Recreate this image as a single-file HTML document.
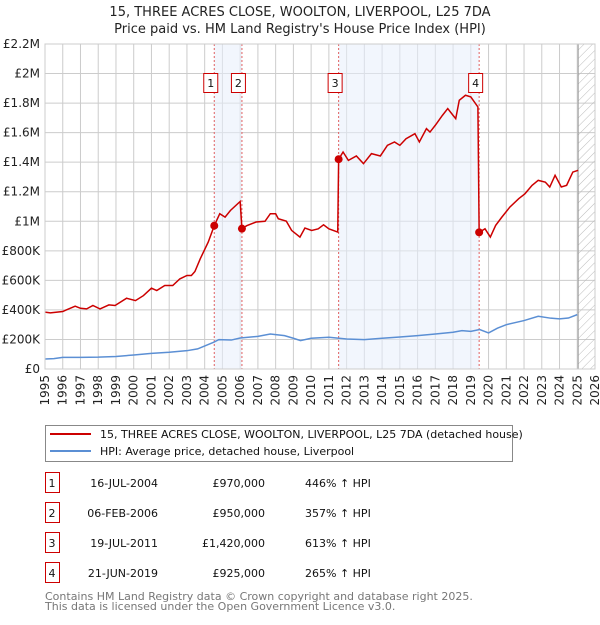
<!DOCTYPE html>
<html><head><meta charset="utf-8"><style>
body{margin:0;background:#fff;font-family:"Liberation Sans","DejaVu Sans",sans-serif;}
svg text{font-family:"DejaVu Sans","Liberation Sans",sans-serif;}
</style></head><body>
<svg id="c" width="600" height="620" xmlns="http://www.w3.org/2000/svg">
<defs><pattern id="hatch" width="6" height="6" patternUnits="userSpaceOnUse" patternTransform="rotate(45)"><line x1="0" y1="0" x2="0" y2="6" stroke="#bbb" stroke-width="1"/></pattern></defs>
<text x="300" y="16" text-anchor="middle" font-size="13" fill="#222">15, THREE ACRES CLOSE, WOOLTON, LIVERPOOL, L25 7DA</text>
<text x="300" y="33" text-anchor="middle" font-size="13" fill="#222">Price paid vs. HM Land Registry's House Price Index (HPI)</text>
<g id="grid"></g><g id="shade"></g><g id="series"></g><g id="axes"></g>
<g>
<rect x="45.5" y="425.5" width="467" height="36" fill="#fff" stroke="#888"/>
<line x1="50" y1="434" x2="91" y2="434" stroke="#cc0000" stroke-width="2"/>
<text x="100" y="438" font-size="11" fill="#111">15, THREE ACRES CLOSE, WOOLTON, LIVERPOOL, L25 7DA (detached house)</text>
<line x1="50" y1="451" x2="91" y2="451" stroke="#5b8fd4" stroke-width="2"/>
<text x="100" y="455" font-size="11" fill="#111">HPI: Average price, detached house, Liverpool</text>
</g>
<g id="table" font-size="11" fill="#111"></g>
<text x="45" y="600" font-size="11" fill="#777">Contains HM Land Registry data © Crown copyright and database right 2025.</text>
<text x="45" y="610" font-size="11" fill="#777">This data is licensed under the Open Government Licence v3.0.</text>
</svg>
<script>
const redYears=[1995,1995.3,1996,1996.2,1996.7,1997,1997.35,1997.7,1998.1,1998.6,1998.95,1999.6,2000.1,2000.55,2001,2001.3,2001.75,2002.2,2002.6,2003,2003.25,2003.45,2003.75,2004.2,2004.54,2004.85,2005.15,2005.45,2006.0,2006.1,2006.37,2006.9,2007.4,2007.7,2008,2008.15,2008.6,2008.9,2009.37,2009.65,2010.03,2010.4,2010.7,2011.0,2011.5,2011.55,2011.8,2012.1,2012.55,2012.95,2013.4,2013.9,2014.3,2014.7,2015,2015.35,2015.85,2016.1,2016.5,2016.7,2017,2017.4,2017.7,2018,2018.15,2018.35,2018.7,2019,2019.4,2019.47,2019.8,2020.1,2020.4,2020.75,2021.2,2021.7,2022.05,2022.45,2022.8,2023.2,2023.45,2023.75,2024.1,2024.4,2024.75,2025.05];
const redValues=[385,380,389,400,425,411,407,430,407,434,430,479,463,497,547,531,565,565,610,633,633,660,746,859,970,1051,1028,1073,1134,950,970,995,1000,1051,1051,1017,1001,938,893,954,938,949,976,949,927,1420,1469,1412,1442,1390,1458,1442,1514,1537,1514,1559,1593,1537,1627,1604,1650,1717,1763,1717,1695,1819,1853,1842,1774,925,949,893,972,1028,1096,1153,1186,1243,1277,1265,1232,1311,1232,1243,1333,1345];
const hpiYears=[1995,1995.5,1996,1997,1998,1999,2000,2001,2002,2003,2003.6,2004.5,2004.8,2005.5,2006,2007,2007.7,2008.5,2009,2009.4,2010,2011,2012,2013,2014,2015,2016,2017,2018,2018.5,2019,2019.5,2020,2020.5,2021,2022,2022.8,2023.5,2024,2024.5,2025];
const hpiValues=[68,70,79,79,80,85,95,106,113,124,136,181,199,196,210,221,237,226,208,192,208,215,203,199,208,217,226,237,249,260,255,267,244,276,300,328,357,344,339,345,368];
const saleLabels=["1","2","3","4"];
const saleYears=[2004.54,2006.1,2011.55,2019.47];
const saleValues=[970,950,1420,925];
const saleDates=["16-JUL-2004","06-FEB-2006","19-JUL-2011","21-JUN-2019"];
const salePrices=["£970,000","£950,000","£1,420,000","£925,000"];
const saleHpi=["446% ↑ HPI","357% ↑ HPI","613% ↑ HPI","265% ↑ HPI"];
const yTickValues=[0,200,400,600,800,1000,1200,1400,1600,1800,2000,2200];
const yTickLabels=["£0","£200K","£400K","£600K","£800K","£1M","£1.2M","£1.4M","£1.6M","£1.8M","£2M","£2.2M"];
const xTickYears=[1995,1996,1997,1998,1999,2000,2001,2002,2003,2004,2005,2006,2007,2008,2009,2010,2011,2012,2013,2014,2015,2016,2017,2018,2019,2020,2021,2022,2023,2024,2025,2026];

const NS="http://www.w3.org/2000/svg";
const X0=45,X1=595,Y0=369,Y1=44;
const xs=y=>X0+(y-1995)/(2026-1995)*(X1-X0);
const ys=v=>Y0-v/2200*(Y0-Y1);
function mk(parent,tag,attrs){const e=document.createElementNS(NS,tag);for(const k in attrs)e.setAttribute(k,attrs[k]);document.getElementById(parent).appendChild(e);return e;}

yTickValues.forEach((v,i)=>{
 const l=mk('grid','line',{x1:X0,x2:X1,y1:ys(v),y2:ys(v),stroke:'#ccc','stroke-width':1});
 
 
 const t=mk('axes','text',{x:X0-5,y:ys(v)+4,'text-anchor':'end','font-size':12,fill:'#222'});
 t.textContent=yTickLabels[i];
 
 
});
xTickYears.forEach(yr=>{
 const l=mk('grid','line',{x1:xs(yr),x2:xs(yr),y1:Y1,y2:Y0,stroke:'#ccc','stroke-width':1});
 
 
 const t=mk('axes','text',{x:0,y:0,'text-anchor':'end','font-size':12,fill:'#222',transform:`translate(${xs(yr)+4},${Y0+6}) rotate(-90)`});
 t.textContent=yr;
 
 
});
// shaded ownership periods
[[0,1],[2,3]].forEach(p=>{
 const r=mk('shade','rect',{x:xs(saleYears[p[0]]),y:Y1,width:xs(saleYears[p[1]])-xs(saleYears[p[0]]),height:Y0-Y1,fill:'#e8eefc','fill-opacity':0.55});
 
 
});
// hatched future
const h=mk('shade','rect',{x:xs(2025.05),y:Y1,width:X1-xs(2025.05),height:Y0-Y1,fill:'url(#hatch)'});


const hl=mk('shade','line',{x1:xs(2025.05),x2:xs(2025.05),y1:Y1,y2:Y0,stroke:'#999','stroke-width':1});


const br=mk('axes','rect',{x:X0,y:Y1,width:X1-X0,height:Y0-Y1,fill:'none',stroke:'#ccc'});



saleYears.forEach(yr=>{
 const l=mk('series','line',{x1:xs(yr),x2:xs(yr),y1:Y1,y2:Y0,stroke:'#e06060','stroke-width':1,'stroke-dasharray':'2,2'});
 
 
});
const hp=mk('series','polyline',{points:hpiYears.map((y,i)=>xs(y)+','+ys(hpiValues[i])).join(' '),fill:'none',stroke:'#5b8fd4','stroke-width':1.5});


const rp=mk('series','polyline',{points:redYears.map((y,i)=>xs(y)+','+ys(redValues[i])).join(' '),fill:'none',stroke:'#cc0000','stroke-width':1.5});


saleYears.forEach((yr,i)=>{
 const c=mk('series','circle',{cx:xs(yr),cy:ys(saleValues[i]),r:4,fill:'#cc0000'});
 
 
 const b=mk('series','rect',{x:xs(yr)-10.5,y:73.5,width:14,height:19,fill:'#fff',stroke:'#cc0000'});
 
 
 const t=mk('series','text',{x:xs(yr)-3.5,y:87,'text-anchor':'middle','font-size':11,fill:'#111'});
 t.textContent=saleLabels[i];
 
 
});
// table
saleLabels.forEach((lab,i)=>{
 const y=483+i*30;
 const b=mk('table','rect',{x:45.5,y:y-10.5,width:14,height:20,fill:'#fff',stroke:'#cc0000'});
 
 
 const vals=[[lab,52,'middle'],[saleDates[i],158,'end'],[salePrices[i],265,'end'],[saleHpi[i],305,'start']];
 vals.forEach(v=>{
  const t=mk('table','text',{x:v[1],y:y+4,'text-anchor':v[2],'font-size':11,fill:'#111'});
  t.textContent=v[0];
  
  
 });
});
</script>
</body></html>
